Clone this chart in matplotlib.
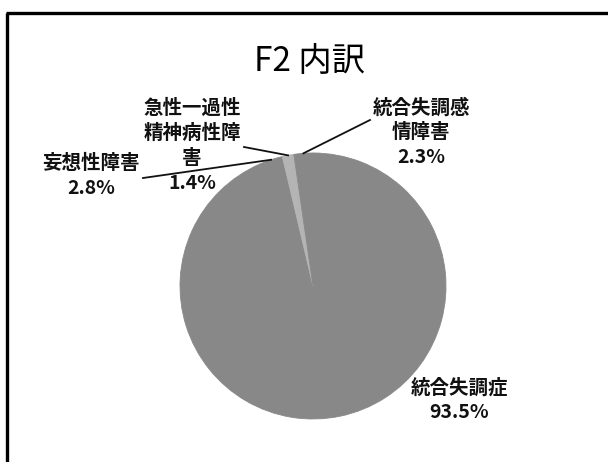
import numpy as np
import matplotlib
matplotlib.use("Agg")
import matplotlib.pyplot as plt

plt.rcParams['font.family'] = ['Noto Sans CJK JP', 'DejaVu Sans']

# data (clockwise from 12 o'clock)
labels = ["統合失調症", "妄想性障害", "急性一過性\n精神病性障\n害", "統合失調感\n情障害"]
values = [93.5, 2.8, 1.4, 2.3]
colors = ["#888888", "#888888", "#b4b4b4", "#888888"]

# label text positions (pixel coords, y up, top of text) and leader start points
label_pos = [(459, 84), (91, 308), (192, 363), (421, 364)]
line_from = [None, (143, 284), (244, 315), (370, 342)]

W, H = 608, 462
fig = plt.figure(figsize=(6.08, 4.62), dpi=100)
ax = fig.add_axes([0, 0, 1, 1])

center = (313, 176)
radius = 133
wedges, _ = ax.pie(values, colors=colors, startangle=90, counterclock=False,
                   center=center, radius=radius, frame=True,
                   wedgeprops=dict(linewidth=0.6))
for w in wedges:
    w.set_edgecolor(w.get_facecolor())
ax.set_xlim(0, W)
ax.set_ylim(0, H)
ax.axis('off')

for w, lab, v, pos, src in zip(wedges, labels, values, label_pos, line_from):
    ax.text(pos[0], pos[1], lab + "\n" + f"{v:.1f}%", ha='center', va='top',
            fontsize=14, fontweight='bold', linespacing=1.38, color='#111111')
    if src is not None:
        mid = np.deg2rad((w.theta1 + w.theta2) / 2)
        px = center[0] + radius * np.cos(mid)
        py = center[1] + radius * np.sin(mid)
        ax.plot([src[0], px], [src[1], py], color='#111111', lw=1.3)

# title
ax.text(310, 401, "F2 内訳", ha='center', va='center', fontsize=24)

# frame
ax.plot([7, 7], [0, H - 13], color='black', lw=2.4, solid_capstyle='butt')
ax.plot([6, W], [H - 13, H - 13], color='black', lw=2.4, solid_capstyle='butt')

fig.savefig("out.png", dpi=100)
